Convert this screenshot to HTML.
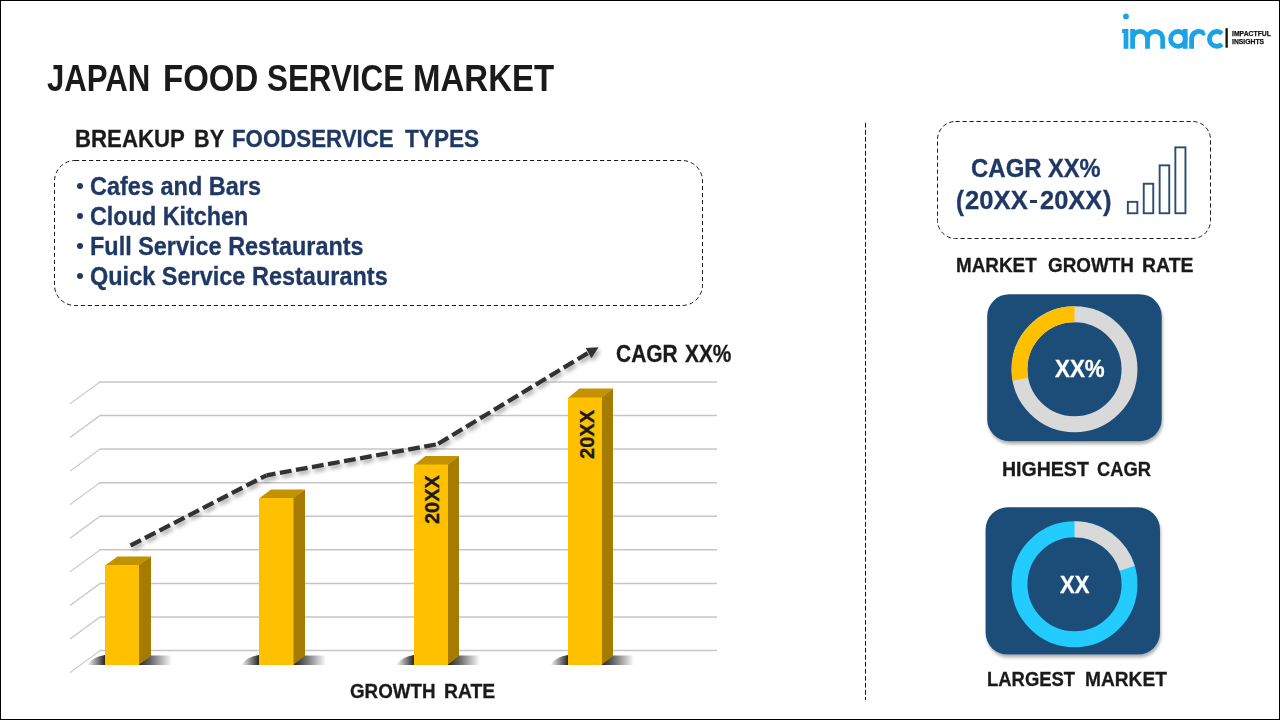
<!DOCTYPE html>
<html>
<head>
<meta charset="utf-8">
<style>
*{margin:0;padding:0;box-sizing:border-box}
html,body{width:1280px;height:720px;overflow:hidden;background:#fff}
body{position:relative;font-family:"Liberation Sans",sans-serif;font-weight:bold}
#frame{position:absolute;left:0;top:0;width:1280px;height:720px;border:1px solid #000}
.t{position:absolute;white-space:pre;line-height:1;transform-origin:0 0;-webkit-text-stroke:0.3px currentColor}
#ta,#tb,#tc,#td{-webkit-text-stroke:0}
.blue{color:#1f3864}
.rot{transform:rotate(-90deg)}
.blk{color:#1a1a1a}
svg{position:absolute;left:0;top:0}
.dot{position:absolute;width:6.3px;height:6.3px;border-radius:50%;background:#1f3864}
</style>
</head>
<body>
<svg width="1280" height="720" viewBox="0 0 1280 720">
  <defs>
    <filter id="sh" x="-20%" y="-20%" width="140%" height="140%">
      <feGaussianBlur in="SourceAlpha" stdDeviation="2"/>
      <feOffset dx="2" dy="3" result="b"/>
      <feComponentTransfer><feFuncA type="linear" slope="0.35"/></feComponentTransfer>
      <feMerge><feMergeNode/><feMergeNode in="SourceGraphic"/></feMerge>
    </filter>
    <filter id="bsh" x="-10%" y="-10%" width="125%" height="130%">
      <feGaussianBlur in="SourceAlpha" stdDeviation="1.8"/>
      <feOffset dx="1" dy="3" result="b"/>
      <feComponentTransfer><feFuncA type="linear" slope="0.3"/></feComponentTransfer>
      <feMerge><feMergeNode/><feMergeNode in="SourceGraphic"/></feMerge>
    </filter>
    <linearGradient id="bshL" x1="1" y1="0" x2="0" y2="0">
      <stop offset="0" stop-color="#000" stop-opacity="0.85"/>
      <stop offset="1" stop-color="#000" stop-opacity="0"/>
    </linearGradient>
    <linearGradient id="bshR" x1="0" y1="0" x2="1" y2="0">
      <stop offset="0" stop-color="#000" stop-opacity="0.85"/>
      <stop offset="0.35" stop-color="#000" stop-opacity="0.6"/>
      <stop offset="1" stop-color="#000" stop-opacity="0"/>
    </linearGradient>
    <filter id="bl" x="-30%" y="-50%" width="160%" height="200%"><feGaussianBlur stdDeviation="0.35"/></filter>
  </defs>

  <!-- list box -->
  <rect x="54.5" y="160.5" width="648" height="145" rx="20.5" ry="20.5" fill="none" stroke="#1a1a1a" stroke-width="1" stroke-dasharray="4.2 2.8"/>

  <!-- gridlines -->
  <g stroke="#c6c6c6" stroke-width="1.5" fill="none">
    <line x1="99.5" y1="381.90" x2="717" y2="381.90"/>
    <line x1="99.5" y1="415.49" x2="717" y2="415.49"/>
    <line x1="99.5" y1="449.08" x2="717" y2="449.08"/>
    <line x1="99.5" y1="482.67" x2="717" y2="482.67"/>
    <line x1="99.5" y1="516.26" x2="717" y2="516.26"/>
    <line x1="99.5" y1="549.85" x2="717" y2="549.85"/>
    <line x1="99.5" y1="583.44" x2="717" y2="583.44"/>
    <line x1="99.5" y1="617.03" x2="717" y2="617.03"/>
    <line x1="99.5" y1="650.62" x2="717" y2="650.62"/>
  </g>
  <g stroke="#c2c2c2" stroke-width="1.1" fill="none">
    <line x1="70" y1="403.90" x2="100" y2="381.90"/>
    <line x1="70" y1="437.49" x2="100" y2="415.49"/>
    <line x1="70" y1="471.08" x2="100" y2="449.08"/>
    <line x1="70" y1="504.67" x2="100" y2="482.67"/>
    <line x1="70" y1="538.26" x2="100" y2="516.26"/>
    <line x1="70" y1="571.85" x2="100" y2="549.85"/>
    <line x1="70" y1="605.44" x2="100" y2="583.44"/>
    <line x1="70" y1="639.03" x2="100" y2="617.03"/>
    <line x1="70" y1="672.62" x2="100" y2="650.62"/>
  </g>

  <!-- bars -->
  <g id="bars">
    <g>
      <path d="M105.0,655 Q93.0,656.5 87.0,665 L105.0,665 Z" fill="url(#bshL)" filter="url(#bl)"/>
      <rect x="139" y="655.5" width="33" height="9.5" fill="url(#bshR)" filter="url(#bl)"/>
      <polygon points="138.5,565 151,556.5 151,656 138.5,665" fill="#a67c00"/>
      <polygon points="105,565.5 117.5,556.5 151,556.5 139,565.5" fill="#c29200"/>
      <rect x="105" y="565" width="34" height="100" fill="#ffc000"/>
    </g>
    <g>
      <path d="M259.0,655 Q247.0,656.5 241.0,665 L259.0,665 Z" fill="url(#bshL)" filter="url(#bl)"/>
      <rect x="293.5" y="655.5" width="32.5" height="9.5" fill="url(#bshR)" filter="url(#bl)"/>
      <polygon points="293.0,498 305,489.5 305,656 293.0,665" fill="#a67c00"/>
      <polygon points="259,498.5 271.0,489.5 305,489.5 293.5,498.5" fill="#c29200"/>
      <rect x="259" y="498" width="34.5" height="167" fill="#ffc000"/>
    </g>
    <g>
      <path d="M414.0,655 Q402.0,656.5 396.0,665 L414.0,665 Z" fill="url(#bshL)" filter="url(#bl)"/>
      <rect x="448" y="655.5" width="32" height="9.5" fill="url(#bshR)" filter="url(#bl)"/>
      <polygon points="447.5,464.5 459,456 459,656 447.5,665" fill="#a67c00"/>
      <polygon points="414,465.0 425.5,456 459,456 448,465.0" fill="#c29200"/>
      <rect x="414" y="464.5" width="34" height="200.5" fill="#ffc000"/>
    </g>
    <g>
      <path d="M568.0,655 Q556.0,656.5 550.0,665 L568.0,665 Z" fill="url(#bshL)" filter="url(#bl)"/>
      <rect x="602" y="655.5" width="32" height="9.5" fill="url(#bshR)" filter="url(#bl)"/>
      <polygon points="601.5,397.5 613,388.5 613,656 601.5,665" fill="#a67c00"/>
      <polygon points="568,398.0 579.5,388.5 613,388.5 602,398.0" fill="#c29200"/>
      <rect x="568" y="397.5" width="34" height="267.5" fill="#ffc000"/>
    </g>
  </g>

  <!-- dashed trend line -->
  <g filter="url(#sh)">
    <g fill="none" stroke="#333" stroke-width="4.3" stroke-dasharray="11.8 4.5">
      <path d="M130.5,545.5 L266.5,475.3"/>
      <path d="M266.5,475.3 L437.5,444.2" stroke-dashoffset="2.7"/>
      <path d="M437.5,444.2 L588.6,352.6" stroke-dashoffset="15.4"/>
    </g>
    <polygon points="598.6,347.2 585.6,348.1 591.4,358.2" fill="#333"/>
  </g>

  <!-- divider -->
  <line x1="865.5" y1="122.9" x2="865.5" y2="700" stroke="#111" stroke-width="1" stroke-dasharray="4.7 2.3"/>

  <!-- CAGR box -->
  <rect x="937.5" y="121.5" width="273" height="117" rx="18" ry="18" fill="none" stroke="#1a1a1a" stroke-width="1" stroke-dasharray="4.2 2.8"/>
  <g fill="none" stroke="#2c4d72" stroke-width="1.9">
    <rect x="1127.85" y="201.85" width="9.5" height="11.4"/>
    <rect x="1143.75" y="183.75" width="9.5" height="29.5"/>
    <rect x="1159.65" y="165.35" width="9.6" height="47.9"/>
    <rect x="1175.35" y="147.35" width="10.1" height="65.9"/>
  </g>

  <!-- donut panels -->
  <g filter="url(#bsh)">
    <rect x="987.2" y="294.2" width="174.5" height="147" rx="22" ry="22" fill="#1f4e79"/>
    <rect x="985.6" y="507.3" width="174.4" height="147.3" rx="22" ry="22" fill="#1f4e79"/>
  </g>
  <circle cx="1074.5" cy="369.2" r="55" fill="none" stroke="#d9d9d9" stroke-width="15.9"/>
  <path d="M1020.42,379.22 A55,55 0 0 1 1074.50,314.20" fill="none" stroke="#ffc000" stroke-width="15.9"/>
  <circle cx="1074.5" cy="584.3" r="55" fill="none" stroke="#22ccff" stroke-width="15.9"/>
  <path d="M1074.50,529.30 A55,55 0 0 1 1127.15,568.40" fill="none" stroke="#d9d9d9" stroke-width="15.9"/>
</svg>

<div id="frame"></div>

<!-- logo -->
<svg width="1280" height="60" viewBox="0 0 1280 60" style="position:absolute;left:0;top:0">
  <g fill="none" stroke="#1ba3e4" stroke-width="4.8">
    <path d="M1126,29 V48.8"/>
    <path d="M1132.6,48.8 V29 M1132.6,38.9 A7.45,7.45 0 0 1 1147.5,38.9 V48.8 M1147.5,38.9 A7.6,7.6 0 0 1 1162.7,38.9 V48.8"/>
    <circle cx="1178" cy="38.9" r="7.4"/>
    <path d="M1185.2,29 V48.8"/>
    <path d="M1191.6,48.8 V38.9 A7.4,7.4 0 0 1 1203.5,33 L1204.5,32.2"/>
    <path d="M1222,33.6 A7.4,7.4 0 1 0 1222,44.2"/>
  </g>
  <g fill="#1ba3e4">
    <circle cx="1126" cy="16.4" r="2.9"/>
    <rect x="1122.1" y="29" width="4" height="4"/>
  </g>
  <rect x="1225.5" y="28.2" width="2.3" height="19.5" fill="#111"/>
</svg>
<div class="t" id="imp" style="-webkit-text-stroke:0.25px #111;left:1232.0px;top:30.0px;font-size:7px;color:#111;transform:scaleX(0.975)">IMPACTFUL</div>
<div class="t" id="ins" style="-webkit-text-stroke:0.25px #111;left:1232.0px;top:38.0px;font-size:7px;color:#111;transform:scaleX(0.9697)">INSIGHTS</div>

<!-- title -->
<div class="t blk" id="ta" style="left:47.0px;top:61.0px;font-size:36px;transform:scaleX(0.8661)">JAPAN</div>
<div class="t blk" id="tb" style="left:163.09px;top:61.0px;font-size:36px;transform:scaleX(0.9159)">FOOD</div>
<div class="t blk" id="tc" style="left:267.12px;top:61.0px;font-size:36px;transform:scaleX(0.871)">SERVICE</div>
<div class="t blk" id="td" style="left:413.47px;top:61.0px;font-size:36px;transform:scaleX(0.9164)">MARKET</div>

<div class="t blk" id="h2a" style="left:75.18px;top:126.8px;font-size:24.5px;transform:scaleX(0.9067)">BREAKUP</div>
<div class="t blk" id="h2b" style="left:194.18px;top:126.8px;font-size:24.5px;transform:scaleX(0.8852)">BY</div>
<div class="t blue" id="h2c" style="left:232.32px;top:126.8px;font-size:24.5px;transform:scaleX(0.9085)">FOODSERVICE</div>
<div class="t blue" id="h2d" style="left:405.38px;top:126.8px;font-size:24.5px;transform:scaleX(0.9226)">TYPES</div>

<div class="dot" style="left:76.7px;top:182.7px"></div>
<div class="dot" style="left:76.7px;top:212.7px"></div>
<div class="dot" style="left:76.7px;top:243px"></div>
<div class="dot" style="left:76.7px;top:273px"></div>
<div class="t blue" id="l1" style="left:90.23px;top:173.64px;font-size:25px;transform:scaleX(0.9392)">Cafes and Bars</div>
<div class="t blue" id="l2" style="left:90.24px;top:203.74px;font-size:25px;transform:scaleX(0.9345)">Cloud Kitchen</div>
<div class="t blue" id="l3" style="left:90.22px;top:234.04px;font-size:25px;transform:scaleX(0.9379)">Full Service Restaurants</div>
<div class="t blue" id="l4" style="left:90.22px;top:264.24px;font-size:25px;transform:scaleX(0.9397)">Quick Service Restaurants</div>

<div class="t blk" id="cga" style="left:615.94px;top:343.4px;font-size:23.5px;transform:scaleX(0.8914)">CAGR</div>
<div class="t blk" id="cgb" style="left:684.87px;top:343.4px;font-size:23.5px;transform:scaleX(0.8886)">XX%</div>
<div class="t blk" id="gra" style="left:350.0px;top:680.0px;font-size:21px;transform:scaleX(0.8947)">GROWTH</div>
<div class="t blk" id="grb" style="left:444.03px;top:680.0px;font-size:21px;transform:scaleX(0.9221)">RATE</div>

<div class="t blk" id="mga" style="left:956.3px;top:254.6px;font-size:20.5px;transform:scaleX(0.9207)">MARKET</div>
<div class="t blk" id="mgb" style="left:1047.59px;top:254.6px;font-size:20.5px;transform:scaleX(0.9205)">GROWTH</div>
<div class="t blk" id="mgc" style="left:1142.25px;top:254.6px;font-size:20.5px;transform:scaleX(0.9488)">RATE</div>
<div class="t blue" id="c1a" style="left:971.02px;top:156.4px;font-size:25px;transform:scaleX(0.9591)">CAGR</div>
<div class="t blue" id="c1b" style="left:1048.4px;top:156.4px;font-size:25px;transform:scaleX(0.9468)">XX%</div>
<div class="t blue" id="c2a" style="left:956.34px;top:187.8px;font-size:27px;transform:scaleX(0.8885)">(</div>
<div class="t blue" id="c2b" style="left:964.6px;top:188.3px;font-size:25.5px;transform:scaleX(1.0065)">20XX</div>
<div style="position:absolute;left:1029.7px;top:200.2px;width:7.1px;height:2.6px;background:#1f3864"></div>
<div class="t blue" id="c2d" style="left:1039.5px;top:188.3px;font-size:25.5px;transform:scaleX(0.9969)">20XX</div>
<div class="t blue" id="c2e" style="left:1103.08px;top:187.8px;font-size:27px;transform:scaleX(0.949)">)</div>

<div class="t" id="xxp" style="left:1055.2px;top:357.0px;font-size:24px;color:#fff;transform:scaleX(0.9321)">XX%</div>
<div class="t blk" id="hca" style="left:1002.27px;top:458.0px;font-size:21px;transform:scaleX(0.9302)">HIGHEST</div>
<div class="t blk" id="hcb" style="left:1097.23px;top:458.0px;font-size:21px;transform:scaleX(0.8756)">CAGR</div>
<div class="t" id="xx" style="left:1060.21px;top:573.0px;font-size:24px;color:#fff;transform:scaleX(0.9191)">XX</div>
<div class="t blk rot" id="y3" style="left:422.1px;top:524.00px;font-size:20.5px;transform:rotate(-90deg) scaleX(0.9721)">20XX</div>
<div class="t blk rot" id="y4" style="left:576.8px;top:459.00px;font-size:20.5px;transform:rotate(-90deg) scaleX(0.9800)">20XX</div>
<div class="t blk" id="lma" style="left:986.97px;top:668.0px;font-size:21px;transform:scaleX(0.878)">LARGEST</div>
<div class="t blk" id="lmb" style="left:1085.08px;top:668.0px;font-size:21px;transform:scaleX(0.9113)">MARKET</div>

</body>
</html>
